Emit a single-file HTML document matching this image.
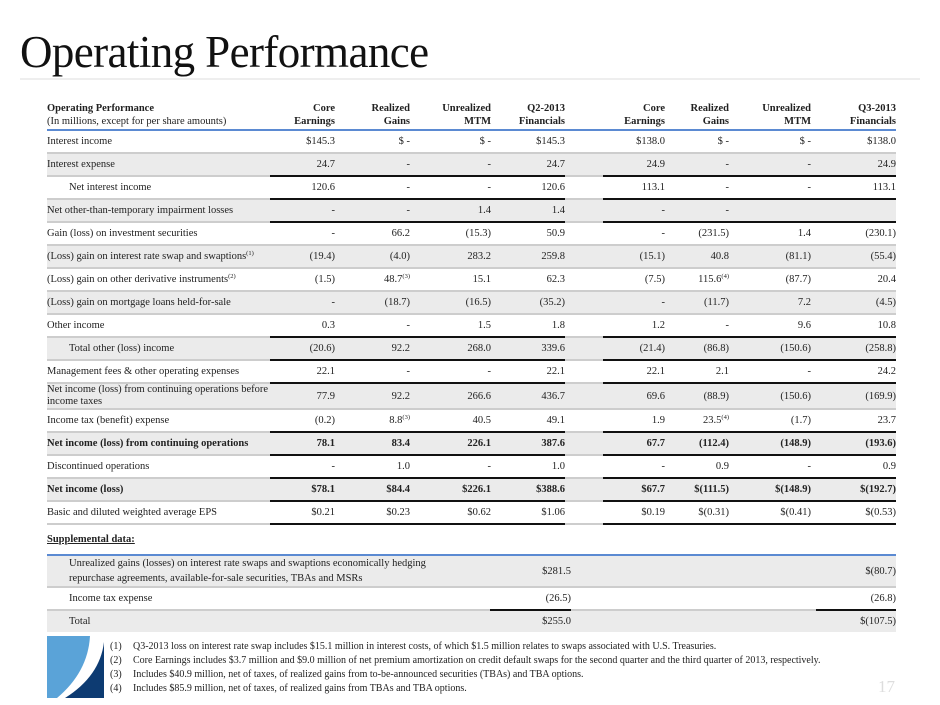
<!DOCTYPE html>
<html><head><meta charset="utf-8">
<style>
body{margin:0;width:940px;height:705px;background:#fff;position:relative;overflow:hidden;font-family:"Liberation Serif",serif;color:#222;}
.title{position:absolute;left:20px;top:26px;font-size:45px;letter-spacing:-0.6px;color:#111;}
.tline{position:absolute;left:20px;top:78px;width:900px;height:2px;background:#eee;}
table{border-collapse:collapse;position:absolute;font-size:10.5px;table-layout:fixed;}
td{padding:0;text-align:right;border-bottom:2px solid #cdcdcd;height:21px;vertical-align:middle;}
td.l{text-align:left;}
tr.s td{background:#ebebeb;}
tr.k td.n{border-bottom-color:#111;}
tr.b td{font-weight:bold;}
.hd td{border-bottom:2px solid #5b8ad2;font-weight:bold;vertical-align:bottom;height:31px;line-height:13px;padding-bottom:1px;}
.hd td.l2{font-weight:normal;}
sup{font-size:6.5px;vertical-align:4px;line-height:0;}
.ind{padding-left:22px;}
.fn{position:absolute;left:110px;top:640px;font-size:10px;line-height:14px;}
.fn div span{display:inline-block;width:23px;}
</style></head><body>
<div class="title">Operating Performance</div>
<div class="tline"></div>
<table style="left:47px;top:97px;width:849px;">
<colgroup><col style="width:223px"><col style="width:65px"><col style="width:75px"><col style="width:81px"><col style="width:74px"><col style="width:38px"><col style="width:62px"><col style="width:64px"><col style="width:82px"><col style="width:85px"></colgroup>
<tr class="hd"><td class="l l2"><b>Operating Performance</b><br>(In millions, except for per share amounts)</td><td>Core<br>Earnings</td><td>Realized<br>Gains</td><td>Unrealized<br>MTM</td><td>Q2-2013<br>Financials</td><td></td><td>Core<br>Earnings</td><td>Realized<br>Gains</td><td>Unrealized<br>MTM</td><td>Q3-2013<br>Financials</td></tr>
<tr><td class="l">Interest income</td><td class="n">$145.3</td><td class="n">$ -</td><td class="n">$ -</td><td class="n">$145.3</td><td></td><td class="n">$138.0</td><td class="n">$ -</td><td class="n">$ -</td><td class="n">$138.0</td></tr>
<tr class="s k"><td class="l">Interest expense</td><td class="n">24.7</td><td class="n">-</td><td class="n">-</td><td class="n">24.7</td><td></td><td class="n">24.9</td><td class="n">-</td><td class="n">-</td><td class="n">24.9</td></tr>
<tr class="k"><td class="l ind">Net interest income</td><td class="n">120.6</td><td class="n">-</td><td class="n">-</td><td class="n">120.6</td><td></td><td class="n">113.1</td><td class="n">-</td><td class="n">-</td><td class="n">113.1</td></tr>
<tr class="s k"><td class="l">Net other-than-temporary impairment losses</td><td class="n">-</td><td class="n">-</td><td class="n">1.4</td><td class="n">1.4</td><td></td><td class="n">-</td><td class="n">-</td><td class="n"></td><td class="n"></td></tr>
<tr><td class="l">Gain (loss) on investment securities</td><td class="n">-</td><td class="n">66.2</td><td class="n">(15.3)</td><td class="n">50.9</td><td></td><td class="n">-</td><td class="n">(231.5)</td><td class="n">1.4</td><td class="n">(230.1)</td></tr>
<tr class="s"><td class="l">(Loss) gain on interest rate swap and swaptions<sup>(1)</sup></td><td class="n">(19.4)</td><td class="n">(4.0)</td><td class="n">283.2</td><td class="n">259.8</td><td></td><td class="n">(15.1)</td><td class="n">40.8</td><td class="n">(81.1)</td><td class="n">(55.4)</td></tr>
<tr><td class="l">(Loss) gain on other derivative instruments<sup>(2)</sup></td><td class="n">(1.5)</td><td class="n">48.7<sup>(3)</sup></td><td class="n">15.1</td><td class="n">62.3</td><td></td><td class="n">(7.5)</td><td class="n">115.6<sup>(4)</sup></td><td class="n">(87.7)</td><td class="n">20.4</td></tr>
<tr class="s"><td class="l">(Loss) gain on mortgage loans held-for-sale</td><td class="n">-</td><td class="n">(18.7)</td><td class="n">(16.5)</td><td class="n">(35.2)</td><td></td><td class="n">-</td><td class="n">(11.7)</td><td class="n">7.2</td><td class="n">(4.5)</td></tr>
<tr class="k"><td class="l">Other income</td><td class="n">0.3</td><td class="n">-</td><td class="n">1.5</td><td class="n">1.8</td><td></td><td class="n">1.2</td><td class="n">-</td><td class="n">9.6</td><td class="n">10.8</td></tr>
<tr class="s k"><td class="l ind">Total other (loss) income</td><td class="n">(20.6)</td><td class="n">92.2</td><td class="n">268.0</td><td class="n">339.6</td><td></td><td class="n">(21.4)</td><td class="n">(86.8)</td><td class="n">(150.6)</td><td class="n">(258.8)</td></tr>
<tr class="k"><td class="l">Management fees &amp; other operating expenses</td><td class="n">22.1</td><td class="n">-</td><td class="n">-</td><td class="n">22.1</td><td></td><td class="n">22.1</td><td class="n">2.1</td><td class="n">-</td><td class="n">24.2</td></tr>
<tr class="s"><td class="l" style="height:23px;line-height:12px">Net income (loss) from continuing operations before income taxes</td><td class="n">77.9</td><td class="n">92.2</td><td class="n">266.6</td><td class="n">436.7</td><td></td><td class="n">69.6</td><td class="n">(88.9)</td><td class="n">(150.6)</td><td class="n">(169.9)</td></tr>
<tr class="k"><td class="l">Income tax (benefit) expense</td><td class="n">(0.2)</td><td class="n">8.8<sup>(3)</sup></td><td class="n">40.5</td><td class="n">49.1</td><td></td><td class="n">1.9</td><td class="n">23.5<sup>(4)</sup></td><td class="n">(1.7)</td><td class="n">23.7</td></tr>
<tr class="s k b"><td class="l">Net income (loss) from continuing operations</td><td class="n">78.1</td><td class="n">83.4</td><td class="n">226.1</td><td class="n">387.6</td><td></td><td class="n">67.7</td><td class="n">(112.4)</td><td class="n">(148.9)</td><td class="n">(193.6)</td></tr>
<tr class="k"><td class="l">Discontinued operations</td><td class="n">-</td><td class="n">1.0</td><td class="n">-</td><td class="n">1.0</td><td></td><td class="n">-</td><td class="n">0.9</td><td class="n">-</td><td class="n">0.9</td></tr>
<tr class="s k b"><td class="l">Net income (loss)</td><td class="n">$78.1</td><td class="n">$84.4</td><td class="n">$226.1</td><td class="n">$388.6</td><td></td><td class="n">$67.7</td><td class="n">$(111.5)</td><td class="n">$(148.9)</td><td class="n">$(192.7)</td></tr>
<tr class="k"><td class="l">Basic and diluted weighted average EPS</td><td class="n">$0.21</td><td class="n">$0.23</td><td class="n">$0.62</td><td class="n">$1.06</td><td></td><td class="n">$0.19</td><td class="n">$(0.31)</td><td class="n">$(0.41)</td><td class="n">$(0.53)</td></tr>
</table>
<div style="position:absolute;left:47px;top:534px;font-size:10.5px;font-weight:bold;text-decoration:underline;">Supplemental data:</div>
<table style="left:47px;top:554px;width:849px;border-top:2px solid #5b8ad2;">
<colgroup><col style="width:443px"><col style="width:81px"><col style="width:245px"><col style="width:80px"></colgroup>
<tr class="s"><td class="l ind" style="height:26px;line-height:15px">Unrealized gains (losses) on interest rate swaps and swaptions economically hedging<br>repurchase agreements, available-for-sale securities, TBAs and MSRs</td><td>$281.5</td><td></td><td>$(80.7)</td></tr>
<tr class="k"><td class="l ind" style="height:20px">Income tax expense</td><td class="n">(26.5)</td><td></td><td class="n">(26.8)</td></tr>
<tr class="s"><td class="l ind" style="border:none;height:21px">Total</td><td style="border:none">$255.0</td><td style="border:none"></td><td style="border:none">$(107.5)</td></tr>
</table>
<svg style="position:absolute;left:47px;top:636px" width="58" height="62" viewBox="0 0 58 62">
<path d="M0,0 H43 Q41,36 10,62 H0 Z" fill="#5aa3d8"/>
<path d="M57,6 Q53,40 18,62 H57 Z" fill="#0d3b72"/>
</svg>
<div class="fn">
<div><span>(1)</span>Q3-2013 loss on interest rate swap includes $15.1 million in interest costs, of which $1.5 million relates to swaps associated with U.S. Treasuries.</div>
<div><span>(2)</span>Core Earnings includes $3.7 million and $9.0 million of net premium amortization on credit default swaps for the second quarter and the third quarter of 2013, respectively.</div>
<div><span>(3)</span>Includes $40.9 million, net of taxes, of realized gains from to-be-announced securities (TBAs) and TBA options.</div>
<div><span>(4)</span>Includes $85.9 million, net of taxes, of realized gains from TBAs and TBA options.</div>
</div>
<div style="position:absolute;left:878px;top:677px;font-size:17px;color:#ddd;">17</div>
</body></html>
